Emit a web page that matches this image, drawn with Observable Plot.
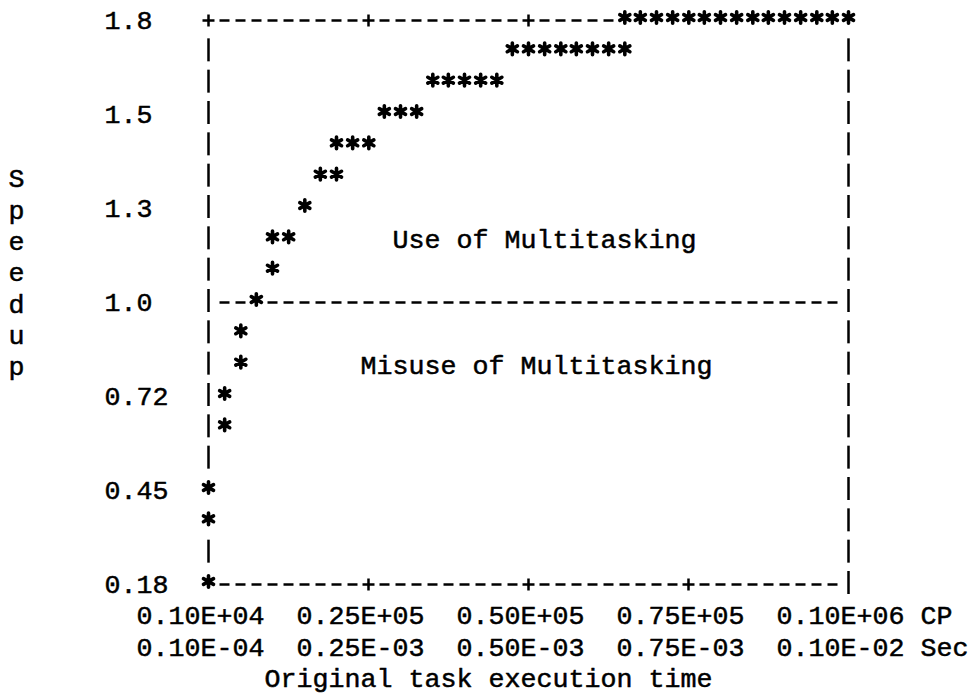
<!DOCTYPE html>
<html>
<head>
<meta charset="utf-8">
<script src="https://cdn.jsdelivr.net/npm/d3@7"></script>
<script src="https://cdn.jsdelivr.net/npm/@observablehq/plot@0.6"></script>
<style>
  html, body { margin: 0; padding: 0; background: #fff; }
  #chart svg { display: block; }
</style>
</head>
<body>
<div id="chart"></div>
<script>
// ---------------- data ----------------
// original task execution time (clock periods) and measured speedup of each printed point
const starTimeCP = [
  65400, 67800, 70300, 72800, 75300, 77700, 80200, 82700, 85200, 87600, 90100, 92600, 95100, 97500, 100000,
  48000, 50500, 53000, 55500, 57900, 60400, 62900, 65400,
  35700, 38100, 40600, 43100, 45600,
  28200, 30700, 33200,
  20800, 23300, 25800,
  18300, 20800,
  15900,
  10900, 13400,
  10900,
  8400,
  6000,
  6000,
  3500,
  3500,
  1000,
  1000,
  1000
];
const starSpeedup = [
  1.80, 1.80, 1.80, 1.80, 1.80, 1.80, 1.80, 1.80, 1.80, 1.80, 1.80, 1.80, 1.80, 1.80, 1.80,
  1.71, 1.71, 1.71, 1.71, 1.71, 1.71, 1.71, 1.71,
  1.62, 1.62, 1.62, 1.62, 1.62,
  1.53, 1.53, 1.53,
  1.44, 1.44, 1.44,
  1.35, 1.35,
  1.26,
  1.17, 1.17,
  1.08,
  0.99,
  0.90,
  0.81,
  0.72,
  0.63,
  0.45,
  0.36,
  0.18
];

const yTickValues = [1.8, 1.53, 1.26, 0.99, 0.72, 0.45, 0.18];
const yTickLabels = ["1.8", "1.5", "1.3", "1.0", "0.72", "0.45", "0.18"];
const xTickValues = [1000, 25750, 50500, 75250, 100000];
const xTickLabelsCP = ["0.10E+04", "0.25E+05", "0.50E+05", "0.75E+05", "0.10E+06"];
const xTickLabelsSec = ["0.10E-04", "0.25E-03", "0.50E-03", "0.75E-03", "0.10E-02"];
const unitLabels = ["CP", "Sec"];
const yTitle = "Speedup";
const xTitle = "Original task execution time";
const regionLabels = ["Use of Multitasking", "Misuse of Multitasking"];
const regionSpeedup = [1.17, 0.81];
const regionTimeCP = [30700, 25750];
const breakEvenSpeedup = 0.99;   // printed "1.0" line

// ---------------- printer grid ----------------
const xMin = 1000, xMax = 100000, nCols = 40;
const yMin = 0.18, yMax = 1.8, nRows = 18;
const colStep = (xMax - xMin) / nCols;   // CP per print column
const rowStep = (yMax - yMin) / nRows;   // speedup per print line
const xAtCol = c => xMin + c * colStep;
const yAtRow = r => yMax - r * rowStep;
const colOf = x => Math.round((x - xMin) / colStep);
const rowOf = y => Math.round((yMax - y) / rowStep);

const stars = starTimeCP.map((t, i) => ({t, s: starSpeedup[i]}));
const occupied = new Set(stars.map(d => rowOf(d.s) + ":" + colOf(d.t)));
const tickCols = new Set(xTickValues.map(colOf));
const breakRow = rowOf(breakEvenSpeedup);

const frame = [];
for (let r = 0; r <= nRows; r++) {
  for (let c = 0; c <= nCols; c++) {
    if (occupied.has(r + ":" + c)) continue;
    let ch = null;
    if (r === 0) ch = tickCols.has(c) ? "+" : "-";
    else if (r === nRows) ch = c === nCols ? "|" : (tickCols.has(c) ? "+" : "-");
    else if (r === breakRow) ch = (c === 0 || c === nCols) ? "|" : "-";
    else if (c === 0 || c === nCols) ch = "|";
    if (ch) frame.push({t: xAtCol(c), s: yAtRow(r), ch});
  }
}

// text placed on the print grid (col = first character column, row = print line)
const texts = [];
yTickValues.forEach((v, i) => texts.push({t: xAtCol(-6), s: v, label: yTickLabels[i]}));
xTickValues.forEach((v, i) => {
  const c = colOf(v) - 4;
  texts.push({t: xAtCol(c), s: yAtRow(nRows + 1), label: xTickLabelsCP[i]});
  texts.push({t: xAtCol(c), s: yAtRow(nRows + 2), label: xTickLabelsSec[i]});
});
texts.push({t: xAtCol(45), s: yAtRow(nRows + 1), label: unitLabels[0]});
texts.push({t: xAtCol(45), s: yAtRow(nRows + 2), label: unitLabels[1]});
texts.push({t: xAtCol(4), s: yAtRow(nRows + 3), label: xTitle});
regionLabels.forEach((l, i) => texts.push({t: regionTimeCP[i], s: regionSpeedup[i], label: l}));
// vertical title, one letter per print line (rows 5..11)
const yTitleText = [{t: xAtCol(-12), s: yAtRow(8), label: yTitle.split("").join("\n")}];

// printed glyph shapes
const dashSym = {draw(ctx) { ctx.moveTo(-5, 0); ctx.lineTo(5, 0); }};
const pipeSym = {draw(ctx) { ctx.moveTo(0, -11.5); ctx.lineTo(0, 11.5); }};
const plusSym = {draw(ctx) { ctx.moveTo(-6, 0); ctx.lineTo(6, 0); ctx.moveTo(0, -6); ctx.lineTo(0, 6); }};
const starSym = {draw(ctx) {
  for (const a of [90, 30, 150]) {
    const r = a * Math.PI / 180, L = 5.8;
    ctx.moveTo(-L * Math.cos(r), -L * Math.sin(r));
    ctx.lineTo(L * Math.cos(r), L * Math.sin(r));
  }
}};

const pitch = 16, fontSize = pitch / 0.6, rowPx = 564 / nRows;
const textStyle = {
  fontFamily: "'Liberation Mono', 'DejaVu Sans Mono', monospace",
  fontSize: fontSize,
  fill: "black", stroke: "black", strokeWidth: 0.5
};

const plot = Plot.plot({
  width: 970,
  height: 700,
  marginLeft: 208,
  marginRight: 122,
  marginTop: 18,
  marginBottom: 118,
  style: {background: "#fff", overflow: "visible"},
  x: {domain: [xMin, xMax], axis: null},
  y: {domain: [yMin, yMax], axis: null},
  marks: [
    Plot.dot(frame.filter(d => d.ch === "-"), {x: "t", y: "s", symbol: dashSym, r: 4, fill: "none", stroke: "black", strokeWidth: 2.5, dy: 2}),
    Plot.dot(frame.filter(d => d.ch === "+"), {x: "t", y: "s", symbol: plusSym, r: 4, fill: "none", stroke: "black", strokeWidth: 2.5, dy: 2}),
    Plot.dot(frame.filter(d => d.ch === "|"), {x: "t", y: "s", symbol: pipeSym, r: 4, fill: "none", stroke: "black", strokeWidth: 2.5}),
    Plot.dot(stars, {x: "t", y: "s", symbol: starSym, r: 4, fill: "none", stroke: "black", strokeWidth: 3.6, strokeLinecap: "round", dy: -1}),
    Plot.text(texts, {
      x: "t", y: "s", text: "label",
      textAnchor: "start", lineAnchor: "middle", dx: -pitch / 2, dy: 2,
      ...textStyle
    }),
    Plot.text(yTitleText, {
      x: "t", y: "s", text: "label",
      textAnchor: "start", lineAnchor: "middle", dx: -pitch / 2, dy: 2,
      lineHeight: rowPx / fontSize,
      ...textStyle
    })
  ]
});
document.getElementById("chart").appendChild(plot);
</script>
</body>
</html>
